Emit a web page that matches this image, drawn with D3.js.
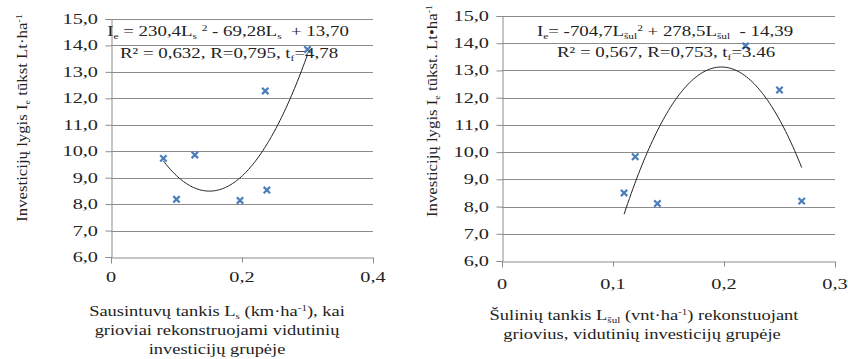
<!DOCTYPE html>
<html>
<head>
<meta charset="utf-8">
<script src="https://cdn.jsdelivr.net/npm/d3@7"></script>
<style>
  html, body { margin: 0; padding: 0; background: #fff; }
  svg { display: block; }
</style>
</head>
<body>
<svg id="chart" width="848" height="359"></svg>
<script>
// Panel A: drain density vs. investment level
const drainDensity = [0.08, 0.10, 0.128, 0.197, 0.2355, 0.238, 0.300];
const drainInvest  = [9.73, 8.18, 9.86, 8.14, 12.28, 8.53, 13.85];
const drainFit     = [230.4, -69.28, 13.70];   // a, b, c of a*x^2 + b*x + c
const drainFitRange = [0.08, 0.30];
const drainXTicks  = [0, 0.2, 0.4];

// Panel B: well density vs. investment level
const wellDensity = [0.11, 0.12, 0.14, 0.2194, 0.25, 0.27];
const wellInvest  = [8.50, 9.83, 8.11, 13.90, 12.28, 8.20];
const wellFit     = [-704.7, 278.5, -14.39];
const wellFitRange = [0.11, 0.27];
const wellXTicks  = [0, 0.1, 0.2, 0.3];

const yTicks = [6, 7, 8, 9, 10, 11, 12, 13, 14, 15];

const svg = d3.select("#chart");
const FONT = "'Liberation Serif', 'Times New Roman', 'DejaVu Serif', serif";
const GRID = "#8c8c8c";
const MARK = "#4a7ebb";

// lettering styles: [font size, horizontal widening]
const TICK  = [14, 1.45];
const EQN   = [15, 1.26];
const TITLE = [15, 1.23];
const YTTL  = [15, 1.12];

// Write a run of text pieces; each piece is [string, "sub"|"sup"|null]
function rich(g, parts, size) {
  const t = g.append("text").attr("font-size", size)
    .attr("font-family", FONT).attr("fill", "#222")
    .style("white-space", "pre");
  parts.forEach(([s, kind]) => {
    const sp = t.append("tspan").text(s);
    if (kind === "sub") sp.attr("baseline-shift", -size * 0.18).attr("font-size", size * 0.6);
    if (kind === "sup") sp.attr("baseline-shift", size * 0.33).attr("font-size", size * 0.6);
  });
  return t;
}

function label(x, y, parts, anchor, style, rot = 0) {
  const [size, sx] = style;
  const g = svg.append("g")
    .attr("transform", `translate(${x},${y}) rotate(${rot}) scale(${sx},1)`);
  return rich(g, parts, size).attr("text-anchor", anchor);
}

function panel(cfg) {
  const x = d3.scaleLinear().domain(cfg.xDomain).range(cfg.xRange);
  const y = d3.scaleLinear().domain([6, 15]).range(cfg.yRange);
  const g = svg.append("g");

  // horizontal gridlines
  g.selectAll("line.grid").data(yTicks.filter(v => v > 6)).join("line")
    .attr("x1", cfg.xRange[0]).attr("x2", cfg.xRange[1])
    .attr("y1", d => Math.round(y(d)) + 0.5).attr("y2", d => Math.round(y(d)) + 0.5)
    .attr("stroke", GRID).attr("stroke-width", 1);

  // axes
  const ya = g.append("g").attr("transform", `translate(${Math.round(cfg.xRange[0]) + 0.5},0)`)
    .call(d3.axisLeft(y).tickValues(yTicks).tickSize(6).tickFormat(""));
  const xa = g.append("g").attr("transform", `translate(0,${Math.round(cfg.yRange[0]) + 0.5})`)
    .call(d3.axisTop(x).tickValues(cfg.xTicks).tickSize(-6).tickFormat(""));
  [ya, xa].forEach(a => {
    a.select(".domain").attr("stroke", GRID);
    a.selectAll(".tick line").attr("stroke", GRID);
  });
  xa.selectAll(".tick line").attr("y2", 5);

  // tick labels
  yTicks.forEach(v => {
    label(cfg.xRange[0] - 13, y(v) + 5, [[d3.format(".1f")(v).replace(".", ","), null]], "end", TICK);
  });
  cfg.xTicks.forEach(v => {
    label(x(v), cfg.xLabelY, [[v === 0 ? "0" : String(v).replace(".", ","), null]], "middle", TICK);
  });

  // fitted quadratic trend
  const [a, b, c] = cfg.fit;
  const xs = d3.range(0, 101).map(i => cfg.fitRange[0] + (cfg.fitRange[1] - cfg.fitRange[0]) * i / 100);
  g.append("path")
    .attr("d", d3.line().x(d => x(d)).y(d => y(a * d * d + b * d + c))(xs))
    .attr("fill", "none").attr("stroke", "#222").attr("stroke-width", 1);

  // observations as x markers
  const r = 3.2;
  g.selectAll("path.mark").data(cfg.xs.map((d, i) => [d, cfg.ys[i]])).join("path")
    .attr("d", d => {
      const px = x(d[0]), py = y(d[1]);
      return `M${px - r},${py - r}L${px + r},${py + r}M${px - r},${py + r}L${px + r},${py - r}`;
    })
    .attr("stroke", MARK).attr("stroke-width", 2.2).attr("fill", "none");
}

panel({
  xDomain: [0, 0.4], xRange: [111, 373], yRange: [257, 19],
  xTicks: drainXTicks, xLabelY: 282,
  fit: drainFit, fitRange: drainFitRange, xs: drainDensity, ys: drainInvest
});
panel({
  xDomain: [0, 0.3], xRange: [502, 835], yRange: [261, 16],
  xTicks: wellXTicks, xLabelY: 289,
  fit: wellFit, fitRange: wellFitRange, xs: wellDensity, ys: wellInvest
});

// regression equations
label(228, 36, [["I", null], ["e", "sub"], [" = 230,4L", null], ["s", "sub"], [" ", null], ["2", "sup"],
  [" - 69,28L", null], ["s", "sub"], ["  + 13,70", null]], "middle", EQN);
label(229, 58, [["R² = 0,632, R=0,795, t", null], ["f", "sub"], ["=4,78", null]], "middle", EQN);
label(665, 36, [["I", null], ["e", "sub"], ["= -704,7L", null], ["šul", "sub"], ["2", "sup"],
  [" + 278,5L", null], ["šul", "sub"], ["  - 14,39", null]], "middle", EQN);
label(666, 57, [["R² = 0,567, R=0,753, t", null], ["f", "sub"], ["=3.46", null]], "middle", EQN);

// axis titles
label(217, 316, [["Sausintuvų tankis L", null], ["s", "sub"], [" (km·ha", null], ["-1", "sup"], ["), kai", null]], "middle", TITLE);
label(217, 335, [["grioviai rekonstruojami vidutinių", null]], "middle", TITLE);
label(217, 354, [["investicijų grupėje", null]], "middle", TITLE);
label(644, 320, [["Šulinių tankis L", null], ["šul", "sub"], [" (vnt·ha", null], ["-1", "sup"], [") rekonstuojant", null]], "middle", TITLE);
label(642, 339, [["griovius, vidutinių investicijų grupėje", null]], "middle", TITLE);

label(27, 118, [["Investicijų lygis I", null], ["e", "sub"], [" tūkst Lt·ha", null], ["-1", "sup"]], "middle", YTTL, -90);
label(437, 111, [["Investicijų lygis I", null], ["e", "sub"], [" tūkst. Lt•ha", null], ["-1", "sup"]], "middle", YTTL, -90);
</script>
</body>
</html>
